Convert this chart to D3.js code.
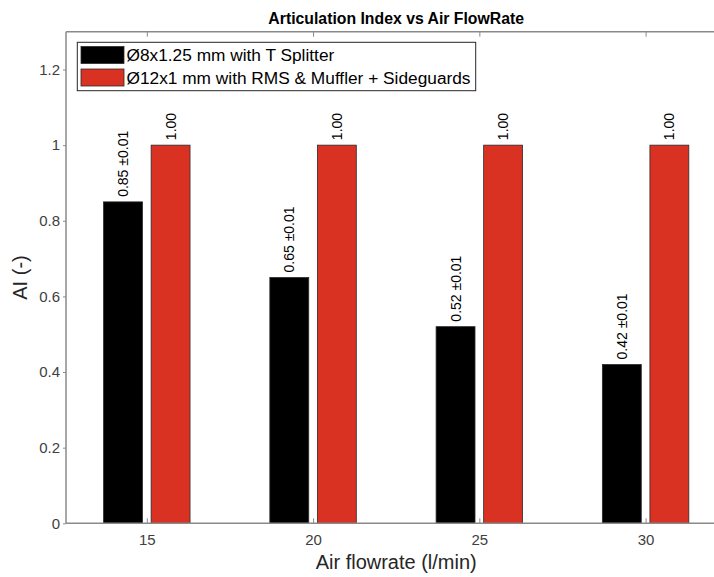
<!DOCTYPE html>
<html>
<head>
<meta charset="utf-8">
<script src="https://cdn.jsdelivr.net/npm/d3@7"></script>
<style>
  html, body { margin: 0; padding: 0; background: #fff; }
  svg { display: block; font-family: "Liberation Sans", Arial, Helvetica, sans-serif; }
</style>
</head>
<body>
<svg id="chart" width="714" height="577"></svg>
<script>
// Air flow rates (l/min) on the x axis
const flowRates = [15, 20, 25, 30];
// Articulation index per configuration
const splitterAI = [0.85, 0.65, 0.52, 0.42];
const splitterErr = [0.01, 0.01, 0.01, 0.01];
const mufflerAI = [1.00, 1.00, 1.00, 1.00];
const seriesNames = ["Ø8x1.25 mm with T Splitter", "Ø12x1 mm with RMS & Muffler + Sideguards"];
const seriesColors = ["#000000", "#DA3222"];
const yTicks = [0, 0.2, 0.4, 0.6, 0.8, 1, 1.2];

(function () {
const svg = d3.select("#chart");
const mLeft = 66, mTop = 31.7, mBottom = 523.3, mRight = 726.4;

const x = d3.scaleLinear().domain([12.57, 32.43]).range([mLeft, mRight]);
const y = d3.scaleLinear().domain([0, 1.3]).range([mBottom, mTop]);

const axisColor = "#262626";
const frameColor = "#8a8a8a";
const barW = 1.17;      // bar width in x units
const offset = 0.715;   // group offset from tick in x units

// bars
const series = [
  { vals: splitterAI, color: seriesColors[0], dx: -offset,
    label: (d, i) => d.toFixed(2) + " ±" + splitterErr[i].toFixed(2) },
  { vals: mufflerAI, color: seriesColors[1], dx: offset,
    label: d => d.toFixed(2) }
];

series.forEach(s => {
  const g = svg.append("g");
  g.selectAll("rect").data(s.vals).join("rect")
    .attr("x", (d, i) => x(flowRates[i] + s.dx - barW / 2))
    .attr("y", d => y(d))
    .attr("width", x(barW) - x(0))
    .attr("height", d => y(0) - y(d))
    .attr("fill", s.color)
    .attr("stroke", "#2a2a2a")
    .attr("stroke-width", 0.8);
  g.selectAll("text").data(s.vals).join("text")
    .attr("transform", (d, i) => `translate(${x(flowRates[i] + s.dx)},${y(d) - 5}) rotate(-90)`)
    .attr("dominant-baseline", "central")
    .attr("text-anchor", "start")
    .attr("font-size", 14)
    .attr("fill", "#000")
    .text((d, i) => s.label(d, i));
});

// frame: left, bottom, top
const frame = svg.append("g").attr("stroke", frameColor).attr("stroke-width", 1.5).attr("fill", "none");
frame.append("line").attr("x1", mLeft).attr("x2", mLeft).attr("y1", mTop).attr("y2", mBottom);
frame.append("line").attr("x1", mLeft).attr("x2", 714).attr("y1", mBottom).attr("y2", mBottom);
frame.append("line").attr("x1", mLeft).attr("x2", 714).attr("y1", mTop).attr("y2", mTop);

// x axis (ticks inside on bottom and top)
const xAxis = svg.append("g").attr("transform", `translate(0,${mBottom})`)
  .call(d3.axisBottom(x).tickValues(flowRates).tickSize(-5).tickPadding(11.5).tickFormat(d3.format("d")));
xAxis.select(".domain").remove();
xAxis.selectAll(".tick line").attr("stroke", frameColor);
xAxis.selectAll(".tick text").attr("font-size", 15).attr("fill", "#404040").attr("font-family", null);

const xTop = svg.append("g").attr("transform", `translate(0,${mTop})`)
  .call(d3.axisTop(x).tickValues(flowRates).tickSize(-5).tickFormat(""));
xTop.select(".domain").remove();
xTop.selectAll(".tick line").attr("stroke", frameColor);

// y axis
const yAxis = svg.append("g").attr("transform", `translate(${mLeft},0)`)
  .call(d3.axisLeft(y).tickValues(yTicks).tickSize(3).tickPadding(3).tickFormat(d3.format("~g")));
yAxis.select(".domain").remove();
yAxis.selectAll(".tick line").attr("stroke", frameColor);
yAxis.selectAll(".tick text").attr("font-size", 15).attr("fill", "#404040").attr("font-family", null);

// title and axis labels
svg.append("text")
  .attr("x", (mLeft + mRight) / 2).attr("y", 23.5)
  .attr("text-anchor", "middle").attr("font-size", 15.8).attr("font-weight", "bold")
  .attr("fill", "#000").text("Articulation Index vs Air FlowRate");

svg.append("text")
  .attr("x", (mLeft + mRight) / 2).attr("y", 569)
  .attr("text-anchor", "middle").attr("font-size", 20).attr("fill", "#262626")
  .text("Air flowrate (l/min)");

svg.append("text")
  .attr("transform", `translate(27,${(mTop + mBottom) / 2}) rotate(-90)`)
  .attr("text-anchor", "middle").attr("font-size", 20).attr("fill", "#262626")
  .text("AI (-)");

// legend
const lg = svg.append("g");
lg.append("rect").attr("x", 77.3).attr("y", 42.3).attr("width", 398.4).attr("height", 48.4)
  .attr("fill", "#fff").attr("stroke", axisColor).attr("stroke-width", 1);
seriesNames.forEach((name, i) => {
  const cy = 55 + i * 22.5;
  lg.append("rect").attr("x", 81).attr("y", cy - 8.5).attr("width", 43).attr("height", 17)
    .attr("fill", seriesColors[i]).attr("stroke", "#2a2a2a").attr("stroke-width", 0.8);
  lg.append("text").attr("x", 126.5).attr("y", cy).attr("dominant-baseline", "central")
    .attr("font-size", 17.3).attr("fill", "#000").text(name);
});
})();
</script>
</body>
</html>
